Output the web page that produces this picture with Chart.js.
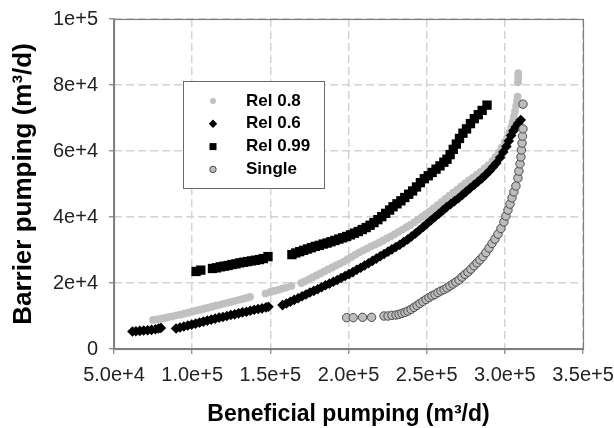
<!DOCTYPE html>
<html><head><meta charset="utf-8">
<script src="https://cdn.jsdelivr.net/npm/chart.js@4/dist/chart.umd.min.js"></script>
<style>html,body{margin:0;padding:0;background:#fff;}canvas{display:block;}</style>
</head><body>
<canvas id="c" width="614" height="428"></canvas>
<script>
const seriesNames = ['Rel 0.8', 'Rel 0.6', 'Rel 0.99', 'Single'];
const xTickValues = [50000, 100000, 150000, 200000, 250000, 300000, 350000];
const xTickLabels = ['5.0e+4', '1.0e+5', '1.5e+5', '2.0e+5', '2.5e+5', '3.0e+5', '3.5e+5'];
const yTickValues = [0, 20000, 40000, 60000, 80000, 100000];
const yTickLabels = ['0', '2e+4', '4e+4', '6e+4', '8e+4', '1e+5'];

// [beneficial pumping, barrier pumping]
const rel08 = [
[75000,8800],[77500,9000],[80000,9200],[82500,9400],[85000,9700],[87500,9900],[90000,10200],[92500,10400],[95000,10700],[97500,11000],[100000,11300],[102500,11600],[105000,11900],[107500,12200],[110000,12500],[112500,12800],[115000,13100],[117500,13400],[120000,13700],[122500,14000],[125000,14300],[127500,14600],[130000,14900],[132500,15200],[135000,15500],[137000,15800],
[146900,16800],[150000,17300],[152500,17600],[155000,17900],[157500,18300],[160000,18600],[163500,19100],
[169900,20000],[172000,20500],[174500,21100],[177000,21700],[179500,22300],[182000,22900],[184500,23500],[187000,24100],[189500,24700],[192000,25300],[194500,25900],[197000,26500],[199500,27200],[202000,27900],[204500,28600],[207000,29300],[209500,29900],[212000,30500],[214500,31100],[217000,31600],[219500,32200],[222000,32800],[224500,33500],[227000,34100],[229500,34800],[232000,35500],[234500,36200],[237000,36900],[239500,37600],[242000,38400],[244500,39200],[247000,40000],[249500,40900],[252000,41800],[254500,42700],[257000,43600],[259500,44500],[262000,45500],[264500,46500],[267000,47400],[269500,48300],[272000,49300],[274500,50200],[277000,51100],[279500,51900],[282000,52800],[284500,53700],[287000,54700],[289500,55700],[292000,56900],[294000,58200],[296000,59600],[298000,61100],[300000,62700],[301500,64000],[303000,65600],[304200,67200],[305000,68800],[305800,70400],[306500,72000],[307200,73600],[307800,75200],[308200,76500],
[308400,80800],[308500,81800],[308600,82800],[308600,83600]
];
const rel06 = [
[61800,5300],[64000,5400],[66500,5500],[69000,5600],[71500,5700],[74000,5800],[76500,6000],[78500,6200],[80000,6400],
[89700,6200],[92200,6500],[94700,6800],[97200,7100],[99700,7400],[102200,7700],[104700,8000],[107200,8300],[109700,8600],[112200,8900],[114700,9200],[117200,9500],[119700,9700],[122200,10000],[124700,10300],[127200,10500],[129700,10800],[132200,11100],[134700,11300],[137200,11600],[139700,11900],[142200,12100],[144700,12300],[147200,12600],[148800,12800],
[157800,13300],[160300,13800],[162800,14300],[165300,14900],[167800,15400],[170300,16000],[172800,16500],[175300,17100],[177800,17600],[180300,18100],[182800,18700],[185300,19300],[187800,19800],[190300,20400],[192800,20900],[195300,21500],[197800,22100],[200300,22700],[202800,23300],[205300,24000],[207800,24600],[210300,25300],[212800,26000],[215300,26700],[217800,27400],[220300,28100],[222800,28800],[225300,29500],[227800,30200],[230300,30900],[232800,31600],[235300,32400],[237800,33200],[240300,34100],[242800,35000],[245300,36000],[247800,37000],[250300,38000],[252800,39000],[255300,40000],[257800,41000],[260300,42000],[262800,43000],[265300,43900],[267800,44800],[270300,45700],[272800,46700],[275300,47700],[277800,48700],[280300,49700],[282800,50700],[285300,51700],[287800,52800],[290300,54000],[292500,55200],[294500,56300],[297000,58000],[299000,59700],[301000,61400],[302500,63000],[304000,64700],[305500,66100],[307000,67300],[308500,68400],[310200,69400]
];
const rel099 = [
[102500,23500],[105500,23900],
[113000,24400],[115500,24600],[118000,24900],[120500,25100],[123000,25300],[125500,25600],[128000,25800],[130500,26100],[133000,26300],[135500,26500],[138000,26700],[140500,26900],[143000,27100],[145500,27400],[148500,28000],
[163800,28600],[166300,29100],[168800,29500],[171300,29900],[173800,30300],[176300,30700],[178800,31100],[181300,31400],[183800,31800],[186300,32100],[188800,32500],[191300,32900],[193800,33300],[196300,33700],[198800,34100],[201300,34600],[203800,35100],[206300,35600],[208800,36200],[211300,36800],[213800,37500],[216300,38300],[218800,39200],[221300,40100],[223800,41100],[226300,42100],[228500,43100],[231000,44000],[233500,44900],[236000,45900],[238500,46900],[241000,47900],[243500,49100],[246000,50400],[248500,51600],[251000,52500],[253500,53500],[256000,54500],[258500,55500],[261000,56600],[263000,57500],[265000,58900],[267000,60500],[269000,62100],[271000,63800],[273200,65400],[275500,66700],[278000,68300],[280500,69800],[283000,71000],[285500,72300],[288600,73900]
];
const single = [
[198800,9500],[203000,9500],[209000,9600],[214800,9600],
[222700,10000],[225300,10000],[227800,10200],[230400,10300],[232300,10500],[234200,10800],[236100,11100],[238000,11500],[240000,12000],[241900,12600],[243800,13200],[245700,13800],[247600,14400],[249600,15000],[251500,15600],[253400,16100],[255300,16500],[257200,17100],[259100,17600],[261100,18000],[263000,18500],[264900,19100],[266800,19700],[268700,20300],[270700,20900],[272600,21800],[274500,22600],[276400,23300],[278300,24200],[280300,25200],[282200,26100],[284100,27000],[286000,28000],[287900,29200],[289900,30600],[291800,32000],[293700,33300],[295600,34800],[297500,36500],[299400,38500],[300700,40300],[302000,42100],[303300,43900],[304600,45800],[305800,47600],[307100,49400],[308400,51800],[309000,53900],[309700,56100],[310300,58200],[310600,60300],[311000,62400],[311300,64500],[311600,66700],
[311600,74200]
];

const FONT = '"Liberation Sans", Arial, Helvetica, sans-serif';
Chart.defaults.font.family = FONT;
const toPts = a => a.map(p => ({x: p[0], y: p[1]}));

const styles = [
  {pointStyle: 'circle', pointRadius: 3.9, backgroundColor: '#c0c0c0', borderColor: '#c0c0c0', borderWidth: 0, order: 3, legendR: 3},
  {pointStyle: 'rectRot', pointRadius: 5.3, backgroundColor: '#000', borderColor: '#000', borderWidth: 0, order: 2, legendR: 4.2},
  {pointStyle: 'rect', pointRadius: 6.6, backgroundColor: '#000', borderColor: '#000', borderWidth: 0, order: 1, legendR: 3.5},
  {pointStyle: 'circle', pointRadius: 4.2, backgroundColor: '#bdbdbd', borderColor: '#4a4a4a', borderWidth: 1, order: 0, legendR: 3.2}
];
const seriesData = [rel08, rel06, rel099, single];

const datasets = seriesData.map((d, i) => ({
  label: seriesNames[i],
  data: toPts(d),
  showLine: false,
  pointStyle: styles[i].pointStyle,
  pointRadius: styles[i].pointRadius,
  pointHoverRadius: styles[i].pointRadius,
  pointBackgroundColor: styles[i].backgroundColor,
  pointBorderColor: styles[i].borderColor,
  pointBorderWidth: styles[i].borderWidth,
  backgroundColor: styles[i].backgroundColor,
  borderColor: styles[i].borderColor,
  order: styles[i].order
}));

function drawMarker(ctx, st, x, y) {
  ctx.save();
  ctx.fillStyle = st.backgroundColor;
  ctx.strokeStyle = st.borderColor;
  ctx.lineWidth = st.borderWidth;
  const r = st.legendR;
  ctx.beginPath();
  if (st.pointStyle === 'circle') {
    ctx.arc(x, y, r, 0, Math.PI * 2);
  } else if (st.pointStyle === 'rectRot') {
    ctx.moveTo(x, y - r); ctx.lineTo(x + r, y); ctx.lineTo(x, y + r); ctx.lineTo(x - r, y); ctx.closePath();
  } else {
    ctx.rect(x - r, y - r, 2 * r, 2 * r);
  }
  ctx.fill();
  if (st.borderWidth > 0) ctx.stroke();
  ctx.restore();
}

const framePlugin = {
  id: 'frame',
  beforeDatasetsDraw(chart) {
    const {ctx, chartArea: a} = chart;
    ctx.save();
    ctx.strokeStyle = '#808080';
    ctx.lineWidth = 1.2;
    ctx.strokeRect(Math.round(a.left) + 0.5, Math.round(a.top) + 0.5, Math.round(a.right - a.left), Math.round(a.bottom - a.top));
    ctx.restore();
  }
};

const legendPlugin = {
  id: 'boxLegend',
  afterDatasetsDraw(chart) {
    const {ctx, chartArea: a} = chart;
    const bx = Math.round(a.left + 69), by = Math.round(a.top + 62), bw = 141, bh = 107;
    ctx.save();
    ctx.fillStyle = '#fff';
    ctx.fillRect(bx, by, bw, bh);
    ctx.strokeStyle = '#6a6a6a';
    ctx.lineWidth = 1;
    ctx.strokeRect(bx + 0.5, by + 0.5, bw, bh);
    seriesNames.forEach((name, i) => {
      const y = by + 20 + i * 22.8;
      drawMarker(ctx, styles[i], bx + 30, y);
      ctx.fillStyle = '#000';
      ctx.font = 'bold 17px ' + FONT;
      ctx.textBaseline = 'middle';
      ctx.textAlign = 'left';
      ctx.fillText(name, bx + 63, y);
    });
    ctx.restore();
  }
};

const gridOpts = {color: '#d3d3d3', lineWidth: 1.5, tickLength: 5, tickColor: '#808080', tickWidth: 1.2};
const borderOpts = {display: true, color: '#808080', width: 1.2, dash: [8, 4]};

new Chart(document.getElementById('c'), {
  type: 'scatter',
  data: {datasets},
  options: {
    responsive: false,
    animation: false,
    events: [],
    layout: {padding: {left: 0, right: 31, top: 19, bottom: 0}},
    plugins: {legend: {display: false}, tooltip: {enabled: false}},
    scales: {
      x: {
        type: 'linear', min: xTickValues[0], max: xTickValues[xTickValues.length - 1],
        afterBuildTicks: s => { s.ticks = xTickValues.map(v => ({value: v})); },
        afterFit: s => { s.height = 79; s.paddingLeft = 0; s.paddingRight = 0; },
        ticks: {callback: (v, i) => xTickLabels[i], font: {size: 20}, color: '#222', padding: 9, maxRotation: 0, autoSkip: false},
        grid: gridOpts,
        border: borderOpts,
        title: {display: true, text: 'Beneficial pumping (m³/d)', font: {size: 23, weight: 'bold'}, color: '#000', padding: {top: 0, bottom: 0}}
      },
      y: {
        type: 'linear', min: yTickValues[0], max: yTickValues[yTickValues.length - 1],
        afterBuildTicks: s => { s.ticks = yTickValues.map(v => ({value: v})); },
        afterFit: s => { s.width = 114; s.paddingTop = 0; s.paddingBottom = 0; },
        ticks: {callback: (v, i) => yTickLabels[i], font: {size: 20}, color: '#222', padding: 11, autoSkip: false},
        grid: gridOpts,
        border: borderOpts,
        title: {display: true, text: 'Barrier pumping (m³/d)', font: {size: 26, weight: 'bold'}, color: '#000', padding: {top: 8, bottom: 0}}
      }
    }
  },
  plugins: [framePlugin, legendPlugin]
});
</script>
</body></html>
